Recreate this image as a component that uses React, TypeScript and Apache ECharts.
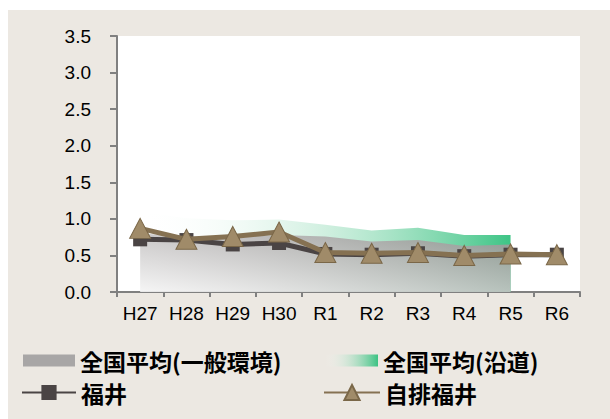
import React, { useEffect, useRef } from "react";
import * as echarts from "echarts";

const categories = ["H27", "H28", "H29", "H30", "R1", "R2", "R3", "R4", "R5", "R6"];
const nationalGeneral = [0.8, 0.76, 0.75, 0.78, 0.76, 0.69, 0.71, 0.63, 0.65];
const nationalRoadside = [1.1, 1.01, 0.98, 0.99, 0.92, 0.84, 0.88, 0.78, 0.78];
const fukui = [0.72, 0.71, 0.65, 0.67, 0.52, 0.51, 0.53, 0.49, 0.51, 0.51];
const jihaiFukui = [0.87, 0.72, 0.76, 0.82, 0.54, 0.53, 0.54, 0.5, 0.52, 0.51];
const yTicks = { min: 0, max: 3.5, interval: 0.5 };

const NAME_GEN = "全国平均(一般環境)";
const NAME_ROAD = "全国平均(沿道)";
const NAME_FUKUI = "福井";
const NAME_JIHAI = "自排福井";

export default function App() {
  const ref = useRef<HTMLDivElement>(null);
  useEffect(() => {
    if (!ref.current) return;
    const chart = echarts.init(ref.current, undefined, { renderer: "svg" });
    const legendText = {
      color: "#000",
      fontSize: 23,
      fontWeight: "bold" as const,
      fontFamily: "Noto Sans CJK JP",
      lineHeight: 25,
    };
    const greenGrad = () =>
      new echarts.graphic.LinearGradient(0, 0, 1, 0, [
        { offset: 0, color: "rgba(255,255,255,0)" },
        { offset: 0.5, color: "rgba(150,220,185,0.45)" },
        { offset: 1, color: "rgba(40,190,120,0.9)" },
      ]);
    const legendBase = (left: number, top: number, name: string, extra: any, w: number, h: number) => ({
      left,
      top,
      itemWidth: w,
      itemHeight: h,
      itemGap: 5,
      selectedMode: false,
      padding: 0,
      textStyle: legendText,
      data: [{ name, ...extra }],
    });
    chart.setOption({
      animation: false,
      backgroundColor: "#ECE8E2",
      grid: {
        left: 109,
        right: 30,
        top: 26,
        bottom: 127,
        show: true,
        backgroundColor: "#ffffff",
        borderWidth: 0,
      },
      legend: [
        legendBase(15, 338, NAME_GEN, { icon: "rect", itemStyle: { color: "#a8a6a6" } }, 52, 12),
        legendBase(317, 338, NAME_ROAD, { icon: "rect", itemStyle: { color: greenGrad() } }, 53, 12),
        legendBase(13, 370, NAME_FUKUI, {}, 54, 19),
        legendBase(315, 370, NAME_JIHAI, {}, 56, 19),
      ],
      xAxis: {
        type: "category",
        data: categories,
        boundaryGap: true,
        axisLine: { show: true, lineStyle: { color: "#808080", width: 2 } },
        axisTick: { show: true, length: 5, lineStyle: { color: "#808080", width: 2 } },
        axisLabel: {
          color: "#000",
          fontSize: 19,
          fontFamily: "Liberation Sans",
          margin: 12,
        },
        splitLine: { show: false },
      },
      yAxis: {
        type: "value",
        min: yTicks.min,
        max: yTicks.max,
        interval: yTicks.interval,
        axisLine: { show: true, lineStyle: { color: "#808080", width: 2 } },
        axisTick: { show: true, length: 7, lineStyle: { color: "#808080", width: 2 } },
        axisLabel: {
          color: "#000",
          fontSize: 19,
          fontFamily: "Liberation Sans",
          margin: 26,
          formatter: (v: number) => v.toFixed(1),
        },
        splitLine: { show: false },
      },
      series: [
        {
          name: NAME_ROAD,
          type: "line",
          data: nationalRoadside,
          symbol: "none",
          lineStyle: { width: 0 },
          itemStyle: { color: "#3cc08a" },
          areaStyle: { color: greenGrad(), opacity: 1 },
          z: 1,
        },
        {
          name: NAME_GEN,
          type: "line",
          data: nationalGeneral,
          symbol: "none",
          lineStyle: { width: 0 },
          itemStyle: { color: "#a8a6a6" },
          areaStyle: {
            opacity: 0.9,
            color: new echarts.graphic.LinearGradient(0, 1, 1, 0, [
              { offset: 0, color: "#f4f4f4" },
              { offset: 1, color: "#959191" },
            ]),
          },
          z: 2,
        },
        {
          name: NAME_FUKUI,
          type: "line",
          data: fukui,
          symbol: "rect",
          symbolSize: 14,
          lineStyle: { color: "#4a4444", width: 5 },
          itemStyle: { color: "#4a4444" },
          z: 3,
        },
        {
          name: NAME_JIHAI,
          type: "line",
          data: jihaiFukui,
          symbol: "triangle",
          symbolSize: [21, 20],
          lineStyle: { color: "#857152", width: 5 },
          itemStyle: { color: "#a08b69", borderColor: "#7a6748", borderWidth: 1 },
          z: 4,
        },
      ],
    });
    return () => chart.dispose();
  }, []);
  return (
    <div
      ref={ref}
      style={{ position: "absolute", left: 8, top: 10, width: 602, height: 409 }}
    />
  );
}
